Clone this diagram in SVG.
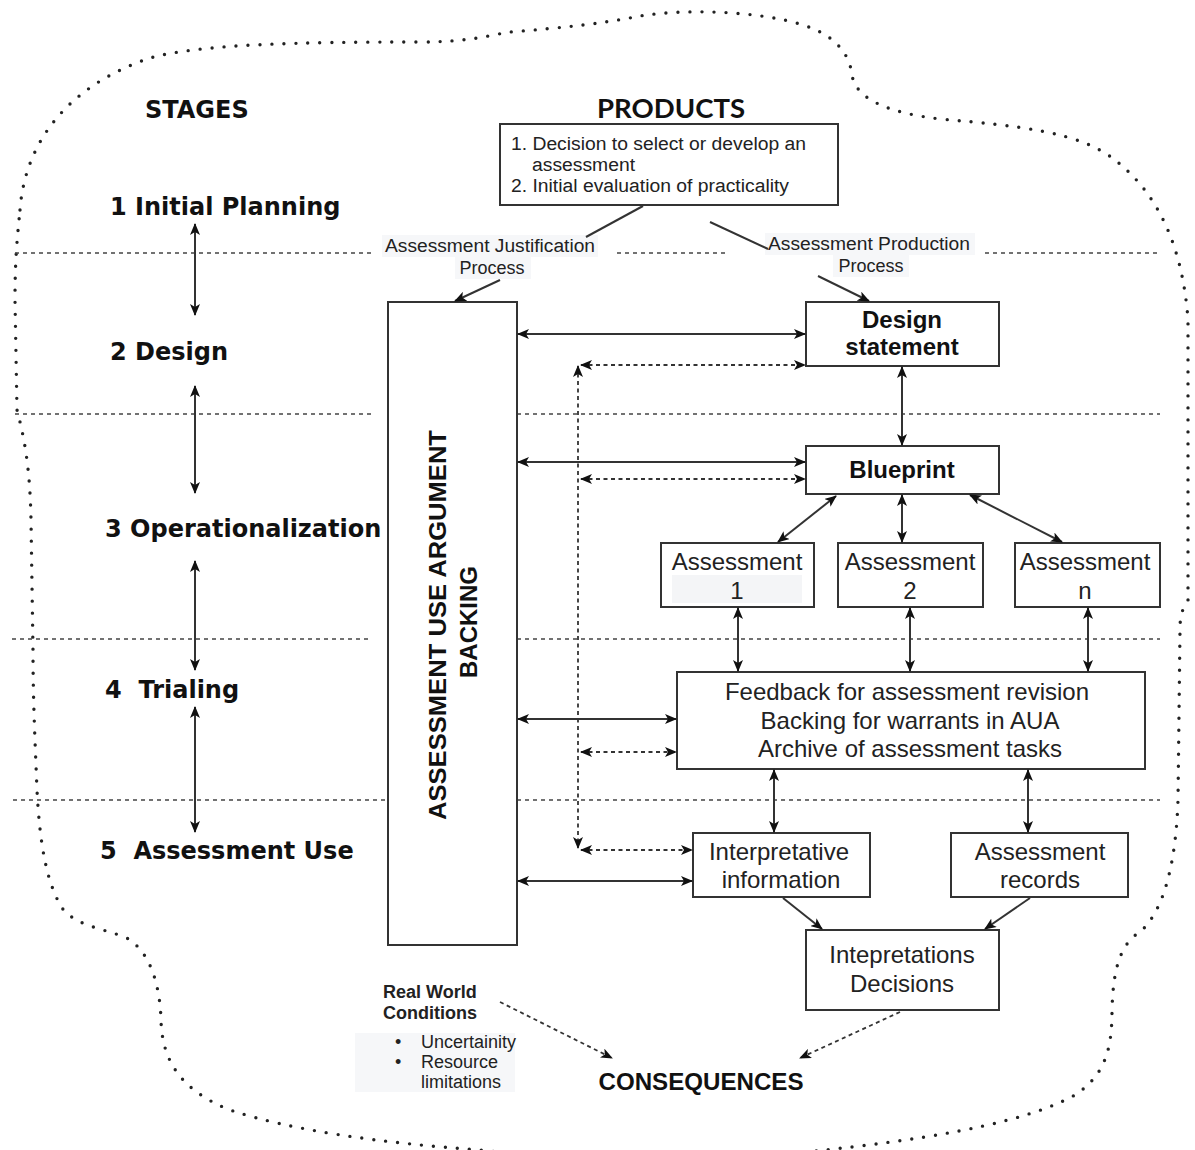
<svg xmlns="http://www.w3.org/2000/svg" width="1195" height="1150" viewBox="0 0 1195 1150">
  <style>
    .stage { font-family: "DejaVu Sans", Verdana, sans-serif; font-weight: bold; font-size: 24px; fill: #111; }
    .head { font-family: Lato, "Liberation Sans", sans-serif; font-weight: bold; font-size: 26px; fill: #111; }
    .txt { font-family: "Liberation Sans", Arial, sans-serif; font-size: 24px; fill: #222; text-anchor: middle; }
    .bold { font-weight: bold; fill: #111; }
    .small { font-family: "Liberation Sans", Arial, sans-serif; font-size: 18px; fill: #222; }
    .box { fill: #fff; stroke: #333; stroke-width: 2; }
    .sep { fill: none; stroke: #444; stroke-width: 1.6; stroke-dasharray: 4 4; }
    .solid { fill: none; stroke: #333; stroke-width: 2; }
    .dash { fill: none; stroke: #333; stroke-width: 1.8; stroke-dasharray: 4 3.5; }
    .cloud { fill: none; stroke: #222; stroke-width: 3.4; stroke-linecap: round; stroke-dasharray: 0 12; }
    .labelbg { fill: #f6f7f9; }
  </style>
  <defs>
    <marker id="arrow" viewBox="0 0 12 10" refX="11" refY="5" markerWidth="12" markerHeight="10" markerUnits="userSpaceOnUse" orient="auto-start-reverse">
      <path d="M0,0 L12,5 L0,10 L3,5 z" fill="#111"/>
    </marker>
  </defs>

  <rect width="1195" height="1150" fill="#fff"/>

  <!-- dotted boundary around the whole process -->
  <path class="cloud" d="M20,210 C25,140 70,85 150,58 C200,44 300,42 420,42 C470,42 490,35 510,32 C560,28 600,24 640,16 C690,8 760,12 800,24 C840,36 850,58 852,75 C856,100 890,113 940,119 C1020,126 1080,132 1115,160 C1160,195 1183,250 1188,320 L1188,600 C1182,610 1180,615 1180,630 L1178,800 C1176,860 1165,910 1140,932 C1118,945 1113,975 1112,1010 C1112,1050 1105,1075 1075,1095 C1030,1120 950,1135 860,1146 C800,1153 750,1158 700,1162 C600,1162 520,1155 480,1150 C380,1143 290,1130 230,1110 C180,1090 162,1060 161,1020 C160,985 150,950 125,937 C100,928 75,925 62,908 C48,885 40,850 37,790 C35,740 33,700 33,650 L31,520 C30,470 25,440 17,410 L15,300 C15,260 17,240 20,210 z"/>

  <!-- stage separators -->
  <g id="separators">
    <path class="sep" d="M15,253 H375 M617,253 H728 M985,253 H1160"/>
    <path class="sep" d="M15,414 H372 M517,414 H1160"/>
    <path class="sep" d="M12,639 H372 M517,639 H1160"/>
    <path class="sep" d="M13,800 H387 M517,800 H1160"/>
  </g>

  <!-- headings and stage names -->
  <g id="stages">
    <text class="stage" x="145" y="118">STAGES</text>
    <text class="stage" x="110" y="215">1 Initial Planning</text>
    <text class="stage" x="110" y="360">2 Design</text>
    <text class="stage" x="105" y="537">3 Operationalization</text>
    <text class="stage" x="105" y="698" xml:space="preserve">4  Trialing</text>
    <text class="stage" x="100" y="859" xml:space="preserve">5  Assessment Use</text>
  </g>
  <text class="head" x="597" y="118" textLength="148" lengthAdjust="spacingAndGlyphs">PRODUCTS</text>

  <!-- initial planning products -->
  <g id="products-box">
    <rect class="box" x="500" y="124" width="338" height="81"/>
    <text class="small" x="511" y="150" font-size="19" textLength="295" lengthAdjust="spacingAndGlyphs">1. Decision to select or develop an</text>
    <text class="small" x="532" y="171" font-size="19" textLength="103" lengthAdjust="spacingAndGlyphs">assessment</text>
    <text class="small" x="511" y="192" font-size="19" textLength="278" lengthAdjust="spacingAndGlyphs">2. Initial evaluation of practicality</text>
  </g>

  <!-- process labels -->
  <g id="label-justification">
    <rect class="labelbg" x="382" y="235" width="216" height="22"/>
    <rect class="labelbg" x="455" y="257" width="76" height="22"/>
    <text class="small" x="490" y="252" text-anchor="middle" textLength="210" lengthAdjust="spacingAndGlyphs">Assessment Justification</text>
    <text class="small" x="492" y="274" text-anchor="middle">Process</text>
  </g>
  <g id="label-production">
    <rect class="labelbg" x="765" y="233" width="210" height="22"/>
    <rect class="labelbg" x="833" y="255" width="76" height="22"/>
    <text class="small" x="869" y="250" text-anchor="middle" textLength="202" lengthAdjust="spacingAndGlyphs">Assessment Production</text>
    <text class="small" x="871" y="272" text-anchor="middle">Process</text>
  </g>

  <!-- AUA backing column -->
  <g id="aua">
    <rect class="box" x="388" y="302" width="129" height="643"/>
    <text class="txt bold" transform="translate(446,625) rotate(-90)" font-size="24" textLength="390" lengthAdjust="spacingAndGlyphs">ASSESSMENT USE ARGUMENT</text>
    <text class="txt bold" transform="translate(477,622) rotate(-90)" font-size="25">BACKING</text>
  </g>

  <g id="design">
    <rect class="box" x="806" y="302" width="193" height="64"/>
    <text class="txt bold" x="902" y="328" font-size="22">Design</text>
    <text class="txt bold" x="902" y="355" font-size="22">statement</text>
  </g>

  <g id="blueprint">
    <rect class="box" x="806" y="446" width="193" height="48"/>
    <text class="txt bold" x="902" y="478">Blueprint</text>
  </g>

  <g id="assessment-1">
    <rect class="box" x="661" y="543" width="153" height="64"/>
    <rect x="672" y="575" width="130" height="28" fill="#f4f5f7"/>
    <text class="txt" x="737" y="570">Assessment</text>
    <text class="txt" x="737" y="599">1</text>
  </g>
  <g id="assessment-2">
    <rect class="box" x="838" y="543" width="145" height="64"/>
    <text class="txt" x="910" y="570">Assessment</text>
    <text class="txt" x="910" y="599">2</text>
  </g>
  <g id="assessment-n">
    <rect class="box" x="1015" y="543" width="145" height="64"/>
    <text class="txt" x="1085" y="570">Assessment</text>
    <text class="txt" x="1085" y="599">n</text>
  </g>

  <g id="feedback">
    <rect class="box" x="677" y="672" width="468" height="97"/>
    <text class="txt" x="907" y="700">Feedback for assessment revision</text>
    <text class="txt" x="910" y="729">Backing for warrants in AUA</text>
    <text class="txt" x="910" y="757">Archive of assessment tasks</text>
  </g>

  <g id="interpretative">
    <rect class="box" x="693" y="833" width="177" height="64"/>
    <text class="txt" x="779" y="860">Interpretative</text>
    <text class="txt" x="781" y="888">information</text>
  </g>

  <g id="records">
    <rect class="box" x="951" y="833" width="177" height="64"/>
    <text class="txt" x="1040" y="860">Assessment</text>
    <text class="txt" x="1040" y="888">records</text>
  </g>

  <g id="decisions">
    <rect class="box" x="806" y="930" width="193" height="80"/>
    <text class="txt" x="902" y="963">Intepretations</text>
    <text class="txt" x="902" y="992">Decisions</text>
  </g>

  <!-- real world conditions -->
  <g id="real-world">
    <rect class="labelbg" x="355" y="1033" width="160" height="59"/>
    <text class="small bold" x="383" y="998" font-size="19">Real World</text>
    <text class="small bold" x="383" y="1019" font-size="19">Conditions</text>
    <text class="small" x="395" y="1048" font-size="16">•</text>
    <text class="small" x="421" y="1048" font-size="16">Uncertainity</text>
    <text class="small" x="395" y="1068" font-size="16">•</text>
    <text class="small" x="421" y="1068" font-size="16">Resource</text>
    <text class="small" x="421" y="1088" font-size="16">limitations</text>
  </g>

  <g id="consequences">
    <text class="txt bold" x="701" y="1090" font-size="24" textLength="205" lengthAdjust="spacingAndGlyphs">CONSEQUENCES</text>
  </g>

  <!-- connectors -->
  <g id="connectors">
    <!-- stage progression -->
    <path class="solid" d="M195,224 V315" marker-start="url(#arrow)" marker-end="url(#arrow)"/>
    <path class="solid" d="M195,386 V493" marker-start="url(#arrow)" marker-end="url(#arrow)"/>
    <path class="solid" d="M195,561 V670" marker-start="url(#arrow)" marker-end="url(#arrow)"/>
    <path class="solid" d="M195,707 V832" marker-start="url(#arrow)" marker-end="url(#arrow)"/>

    <!-- from products box into the two processes -->
    <path class="solid" d="M643,206 L586,237"/>
    <path class="solid" d="M710,222 L768,249"/>
    <path class="solid" d="M500,280 L455,301" marker-end="url(#arrow)"/>
    <path class="solid" d="M818,276 L869,301" marker-end="url(#arrow)"/>

    <!-- AUA backing links -->
    <path class="solid" d="M518,334 H805" marker-start="url(#arrow)" marker-end="url(#arrow)"/>
    <path class="solid" d="M518,462 H805" marker-start="url(#arrow)" marker-end="url(#arrow)"/>
    <path class="solid" d="M518,719 H676" marker-start="url(#arrow)" marker-end="url(#arrow)"/>
    <path class="solid" d="M518,881 H692" marker-start="url(#arrow)" marker-end="url(#arrow)"/>

    <!-- dashed feedback loop -->
    <path class="dash" d="M578,366 V848" marker-start="url(#arrow)" marker-end="url(#arrow)"/>
    <path class="dash" d="M581,365 H805" marker-start="url(#arrow)" marker-end="url(#arrow)"/>
    <path class="dash" d="M581,479 H805" marker-start="url(#arrow)" marker-end="url(#arrow)"/>
    <path class="dash" d="M581,752 H676" marker-start="url(#arrow)" marker-end="url(#arrow)"/>
    <path class="dash" d="M581,850 H692" marker-start="url(#arrow)" marker-end="url(#arrow)"/>

    <!-- production chain -->
    <path class="solid" d="M902,367 V445" marker-start="url(#arrow)" marker-end="url(#arrow)"/>
    <path class="solid" d="M836,496 L778,542" marker-start="url(#arrow)" marker-end="url(#arrow)"/>
    <path class="solid" d="M902,495 V542" marker-start="url(#arrow)" marker-end="url(#arrow)"/>
    <path class="solid" d="M970,495 L1062,542" marker-start="url(#arrow)" marker-end="url(#arrow)"/>
    <path class="solid" d="M738,608 V671" marker-start="url(#arrow)" marker-end="url(#arrow)"/>
    <path class="solid" d="M910,608 V671" marker-start="url(#arrow)" marker-end="url(#arrow)"/>
    <path class="solid" d="M1088,608 V671" marker-start="url(#arrow)" marker-end="url(#arrow)"/>
    <path class="solid" d="M774,770 V832" marker-start="url(#arrow)" marker-end="url(#arrow)"/>
    <path class="solid" d="M1028,770 V832" marker-start="url(#arrow)" marker-end="url(#arrow)"/>
    <path class="solid" d="M783,898 L822,929" marker-end="url(#arrow)"/>
    <path class="solid" d="M1030,898 L985,929" marker-end="url(#arrow)"/>

    <!-- consequences -->
    <path class="dash" d="M500,1002 L612,1058" marker-end="url(#arrow)"/>
    <path class="dash" d="M900,1012 L800,1058" marker-end="url(#arrow)"/>
  </g>
</svg>
